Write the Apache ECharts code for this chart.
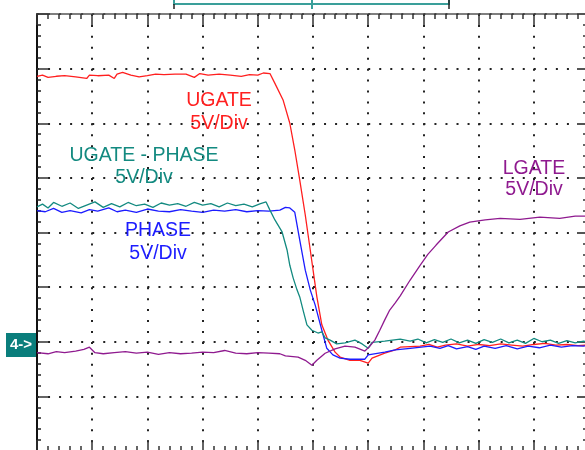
<!DOCTYPE html>
<html>
<head>
<meta charset="utf-8">
<script src="https://cdn.jsdelivr.net/npm/echarts@6/dist/echarts.min.js"></script>
<style>
  html, body { margin: 0; padding: 0; background: #fff; }
  #chart { width: 585px; height: 450px; }
</style>
</head>
<body>
<div id="chart"></div>
<script>
// time in divisions (0..10), level in divisions from the bottom edge (0..8)
const ugate = [
  [0, 6.86], [0.1, 6.88], [0.2, 6.84], [0.35, 6.86], [0.5, 6.87], [0.7, 6.85], [0.9, 6.82],
  [0.95, 6.88], [1.1, 6.87], [1.3, 6.88], [1.4, 6.82], [1.45, 6.9], [1.55, 6.93], [1.7, 6.88],
  [1.85, 6.85], [2.0, 6.87], [2.15, 6.9], [2.3, 6.89], [2.5, 6.9], [2.7, 6.9], [2.85, 6.84],
  [2.95, 6.91], [3.1, 6.88], [3.3, 6.9], [3.5, 6.88], [3.7, 6.86], [3.85, 6.89], [4.0, 6.88],
  [4.1, 6.92], [4.22, 6.91], [4.31, 6.73], [4.46, 6.42], [4.58, 6.0], [4.67, 5.51], [4.76, 4.96],
  [4.86, 4.32], [4.95, 3.68], [5.07, 2.82], [5.16, 2.31], [5.27, 2.03], [5.4, 1.81], [5.49, 1.72],
  [5.67, 1.66], [5.85, 1.66], [6.0, 1.61], [6.07, 1.7], [6.3, 1.79], [6.49, 1.85], [6.58, 1.9],
  [6.94, 1.92], [7.1, 1.95], [7.25, 1.9], [7.4, 1.94], [7.6, 1.96], [7.8, 1.92], [8.0, 1.95],
  [8.2, 1.93], [8.4, 1.96], [8.6, 1.94], [8.8, 1.92], [9.0, 1.95], [9.2, 1.97], [9.4, 1.94],
  [9.6, 1.95], [9.8, 1.93], [10, 1.94]
];
const ugatePhase = [
  [0, 4.47], [0.1, 4.52], [0.2, 4.45], [0.3, 4.55], [0.45, 4.48], [0.6, 4.54], [0.75, 4.44],
  [0.9, 4.5], [1.05, 4.56], [1.2, 4.46], [1.35, 4.53], [1.5, 4.47], [1.65, 4.55], [1.8, 4.49],
  [1.95, 4.52], [2.1, 4.46], [2.25, 4.54], [2.4, 4.5], [2.55, 4.53], [2.7, 4.48], [2.85, 4.55],
  [3.0, 4.5], [3.15, 4.53], [3.3, 4.47], [3.45, 4.54], [3.6, 4.49], [3.75, 4.52], [3.9, 4.47],
  [4.05, 4.53], [4.15, 4.56], [4.22, 4.41], [4.31, 4.23], [4.44, 4.01], [4.53, 3.68], [4.58, 3.4],
  [4.64, 3.17], [4.71, 2.95], [4.76, 2.82], [4.82, 2.58], [4.89, 2.31], [4.98, 2.21], [5.09, 2.16],
  [5.16, 2.18], [5.22, 2.07], [5.31, 2.03], [5.43, 1.96], [5.58, 1.98], [5.76, 2.03], [5.89, 1.96],
  [6.0, 1.88], [6.07, 1.99], [6.3, 2.01], [6.58, 2.05], [6.76, 2.01], [6.9, 2.05], [7.05, 1.98],
  [7.2, 2.04], [7.35, 1.99], [7.5, 2.05], [7.65, 1.98], [7.8, 2.03], [7.95, 1.97], [8.1, 2.04],
  [8.25, 1.99], [8.4, 2.05], [8.55, 1.98], [8.7, 2.03], [8.85, 1.97], [9.0, 2.06], [9.15, 2.0],
  [9.3, 2.03], [9.45, 1.97], [9.6, 2.02], [9.75, 1.98], [9.9, 2.01], [10, 1.99]
];
const phase = [
  [0, 4.4], [0.15, 4.38], [0.3, 4.44], [0.45, 4.37], [0.6, 4.4], [0.8, 4.36], [0.95, 4.42],
  [1.1, 4.39], [1.3, 4.45], [1.45, 4.38], [1.6, 4.41], [1.8, 4.37], [2.0, 4.43], [2.2, 4.39],
  [2.4, 4.38], [2.6, 4.42], [2.8, 4.39], [3.0, 4.37], [3.2, 4.41], [3.4, 4.39], [3.6, 4.42],
  [3.8, 4.38], [4.0, 4.4], [4.2, 4.39], [4.4, 4.41], [4.5, 4.46], [4.58, 4.45], [4.67, 4.37],
  [4.76, 3.86], [4.86, 3.31], [4.95, 2.95], [5.04, 2.67], [5.16, 2.21], [5.25, 1.88], [5.36, 1.76],
  [5.49, 1.7], [5.67, 1.68], [5.94, 1.68], [6.0, 1.76], [6.3, 1.81], [6.49, 1.85], [6.76, 1.88],
  [7.12, 1.92], [7.3, 1.88], [7.45, 1.93], [7.6, 1.87], [7.8, 1.91], [7.95, 1.86], [8.1, 1.92],
  [8.3, 1.88], [8.5, 1.93], [8.7, 1.87], [8.9, 1.92], [9.1, 1.89], [9.3, 1.94], [9.5, 1.9],
  [9.7, 1.93], [9.9, 1.92], [10, 1.93]
];
const lgate = [
  [0, 1.8], [0.2, 1.78], [0.35, 1.82], [0.5, 1.8], [0.7, 1.83], [0.85, 1.86], [0.95, 1.9],
  [1.05, 1.8], [1.2, 1.78], [1.4, 1.8], [1.6, 1.82], [1.8, 1.79], [2.0, 1.81], [2.2, 1.77],
  [2.4, 1.8], [2.6, 1.78], [2.8, 1.79], [3.0, 1.81], [3.2, 1.8], [3.4, 1.84], [3.6, 1.79],
  [3.8, 1.78], [4.0, 1.8], [4.2, 1.79], [4.4, 1.78], [4.5, 1.74], [4.73, 1.72], [4.86, 1.66],
  [4.98, 1.57], [5.07, 1.66], [5.22, 1.79], [5.4, 1.87], [5.58, 1.92], [5.76, 1.9], [5.94, 1.83],
  [6.03, 1.92], [6.12, 2.03], [6.21, 2.21], [6.3, 2.4], [6.39, 2.58], [6.49, 2.71], [6.58, 2.84],
  [6.76, 3.13], [6.94, 3.4], [7.08, 3.6], [7.23, 3.77], [7.45, 4.01], [7.66, 4.12], [7.84, 4.19],
  [8.12, 4.23], [8.39, 4.26], [8.75, 4.24], [9.11, 4.28], [9.47, 4.26], [9.75, 4.3], [10, 4.3]
];

const traceNames = ['UGATE', 'UGATE - PHASE', 'PHASE', 'LGATE'];
const traceColors = ['#ff1f1f', '#138a80', '#1c1cff', '#8f1a8f'];
const scaleText = '5V/Div';

const chart = echarts.init(document.getElementById('chart'));

const font = '19.5px "Liberation Sans", Arial, sans-serif';
function label(text, x, y, color) {
  return { type: 'text', x: x, y: y, silent: true, z: 1,
    style: { text: text, font: font, fill: color, align: 'center', verticalAlign: 'middle' } };
}

const baseAxis = {
  type: 'value',
  min: 0,
  axisLabel: { show: false },
  axisLine: { show: true, onZero: false, lineStyle: { color: '#555', width: 1.5 } },
  axisTick: { show: true, inside: true, length: 11, lineStyle: { color: '#333', width: 1.5 } },
  minorTick: { show: true, splitNumber: 5, length: 5, lineStyle: { color: '#333', width: 1.5 } },
  splitLine: { show: false }
};

chart.setOption({
  animation: false,
  backgroundColor: '#fff',
  grid: { left: 37, top: 14, width: 552, height: 437, outerBoundsMode: 'none' },
  xAxis: [
    Object.assign({}, baseAxis, { max: 10, interval: 1, position: 'bottom',
      splitLine: { show: true, lineStyle: { color: '#222', width: 2, type: [2, 8.93] } } }),
    Object.assign({}, baseAxis, { max: 10, interval: 1, position: 'top' })
  ],
  yAxis: [
    Object.assign({}, baseAxis, { max: 8, interval: 1, position: 'left',
      axisLine: { show: true, onZero: false, lineStyle: { color: '#111', width: 2 } },
      minorTick: { show: true, splitNumber: 5, length: 4, lineStyle: { color: '#222', width: 1.5 } },
      splitLine: { show: true, lineStyle: { color: '#222', width: 2, type: [2, 9.04] } } }),
    Object.assign({}, baseAxis, { max: 8, interval: 1, position: 'right',
      axisTick: { show: true, inside: true, length: 12, lineStyle: { color: '#555', width: 2 } },
      minorTick: { show: true, splitNumber: 5, length: 6, lineStyle: { color: '#666', width: 2 } } })
  ],
  series: [ugate, phase, ugatePhase, lgate].map(function (d, i) {
    const idx = [0, 2, 1, 3][i];
    return {
      name: traceNames[idx],
      type: 'line',
      data: d,
      showSymbol: false,
      xAxisIndex: 0,
      yAxisIndex: 0,
      lineStyle: { color: traceColors[idx], width: 1.3 },
      z: 3 + i
    };
  }),
  graphic: [
    // trigger / record position bar at the top
    { type: 'rect', shape: { x: 174, y: -4, width: 275, height: 8 }, silent: true,
      style: { fill: 'none', stroke: '#3a9f9a', lineWidth: 2 } },
    { type: 'line', shape: { x1: 312, y1: 0, x2: 312, y2: 9 }, silent: true,
      style: { stroke: '#3a9f9a', lineWidth: 2 } },
    { type: 'line', shape: { x1: 174, y1: 4, x2: 174, y2: 9 }, silent: true,
      style: { stroke: '#222', lineWidth: 1.5 } },
    { type: 'line', shape: { x1: 449, y1: 0, x2: 449, y2: 9 }, silent: true,
      style: { stroke: '#222', lineWidth: 1.5 } },
    // channel 4 ground marker
    { type: 'rect', shape: { x: 6, y: 333, width: 30, height: 24 }, silent: true,
      style: { fill: '#0a7e7c' } },
    { type: 'text', x: 21, y: 345, silent: true,
      style: { text: '4->', font: 'bold 15px "Liberation Sans", Arial, sans-serif', fill: '#fff',
        align: 'center', verticalAlign: 'middle' } },
    label(traceNames[0], 219, 101, traceColors[0]),
    label(scaleText, 219, 124, traceColors[0]),
    label(traceNames[1], 144, 156, traceColors[1]),
    label(scaleText, 144, 178, traceColors[1]),
    label(traceNames[2], 158, 231, traceColors[2]),
    label(scaleText, 158, 254, traceColors[2]),
    label(traceNames[3], 534, 169, traceColors[3]),
    label(scaleText, 534, 190, traceColors[3])
  ]
});
</script>
</body>
</html>
